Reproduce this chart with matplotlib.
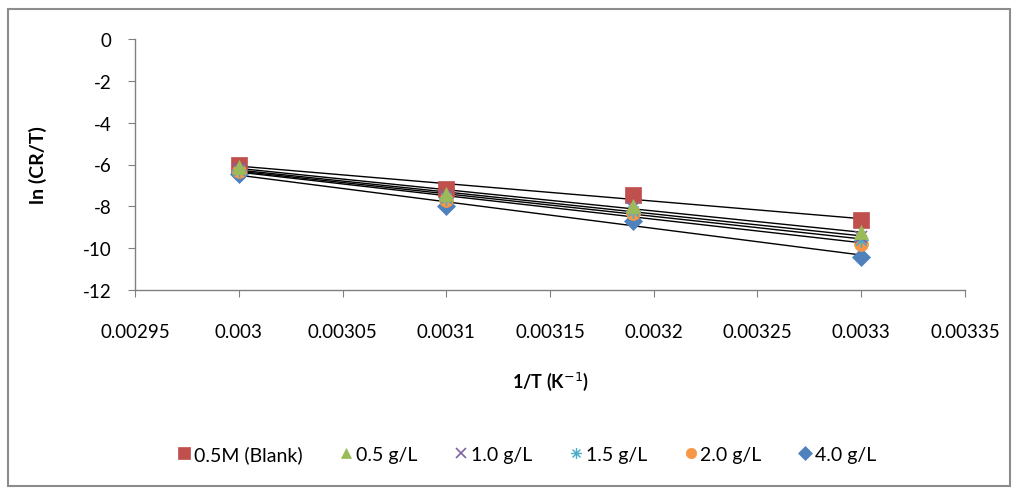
import numpy as np
import matplotlib
matplotlib.use("Agg")
import matplotlib.pyplot as plt
from matplotlib.patches import Rectangle

plt.rcParams['font.family'] = ['Lato', 'DejaVu Sans']

inv_T = [0.00300, 0.00310, 0.00319, 0.00330]
series_names = ["0.5M (Blank)", "0.5 g/L", "1.0 g/L", "1.5 g/L", "2.0 g/L", "4.0 g/L"]
blank = [-6.0, -7.15, -7.45, -8.65]
g05 = [-6.1, -7.4, -8.0, -9.25]
g10 = [-6.2, -7.5, -8.1, -9.45]
g15 = [-6.25, -7.6, -8.2, -9.6]
g20 = [-6.3, -7.7, -8.3, -9.8]
g40 = [-6.45, -8.0, -8.7, -10.4]
series_values = [blank, g05, g10, g15, g20, g40]

x_ticks = [0.00295, 0.003, 0.00305, 0.0031, 0.00315, 0.0032, 0.00325, 0.0033, 0.00335]
x_tick_labels = ["0.00295", "0.003", "0.00305", "0.0031", "0.00315", "0.0032", "0.00325", "0.0033", "0.00335"]
y_ticks = [0, -2, -4, -6, -8, -10, -12]

colors = ["#C0504D", "#9BBB59", "#8064A2", "#4BACC6", "#F79646", "#4F81BD"]
markers = ["s", "^", "x", "$\u2733$", "o", "D"]
msizes = [11, 10, 9, 10, 10, 9]

fig = plt.figure(figsize=(10.16, 4.89), dpi=100)
fig.patches.append(Rectangle((8/1016, 2/489), 1002/1016, 477/489, transform=fig.transFigure,
                             fill=False, edgecolor="#8c8c8c", linewidth=1.5))
ax = fig.add_axes([135/1016, (489-291)/489, 830/1016, 251/489])

x = np.array(inv_T)
for name, vals in zip(series_names, series_values):
    y = np.array(vals)
    k, b = np.polyfit(x, y, 1)
    xx = np.array([x.min(), x.max()])
    ax.plot(xx, k*xx + b, color="black", linewidth=1.0, zorder=2)

handles = []
for i in range(6):
    h, = ax.plot(inv_T, series_values[i], linestyle="none", marker=markers[i], color=colors[i],
                 markersize=msizes[i], markeredgewidth=1.2 if markers[i] == "x" else 0.5,
                 markeredgecolor=colors[i], label=series_names[i], zorder=3 + (5 - i if i != 0 else 0))
    handles.append(h)

ax.set_xlim(0.00295, 0.00335)
ax.set_ylim(-12, 0)
ax.set_xticks(x_ticks)
ax.set_xticklabels(x_tick_labels)
ax.set_yticks(y_ticks)
ax.set_yticklabels([str(v) for v in y_ticks])
for s in ["top", "right"]:
    ax.spines[s].set_visible(False)
for s in ["left", "bottom"]:
    ax.spines[s].set_color("#808080")
    ax.spines[s].set_linewidth(1.0)
ax.tick_params(axis="both", direction="out", length=5, color="#808080", labelsize=13.5)
ax.tick_params(axis="x", pad=19)
ax.tick_params(axis="y", pad=12)

ax.set_xlabel("1/T (K$^{-1}$)", fontsize=13, fontweight="bold", labelpad=21)
ax.set_ylabel("ln (CR/T)", fontsize=14, fontweight="bold", labelpad=26)

leg = fig.legend(handles=handles, labels=series_names, loc="center", bbox_to_anchor=(527/1016, 1 - 455/489),
                 ncol=6, frameon=False, fontsize=14, handlelength=0.7, handletextpad=0.15, columnspacing=1.9,
                 markerscale=0.75)

fig.savefig("out.png", dpi=100)
